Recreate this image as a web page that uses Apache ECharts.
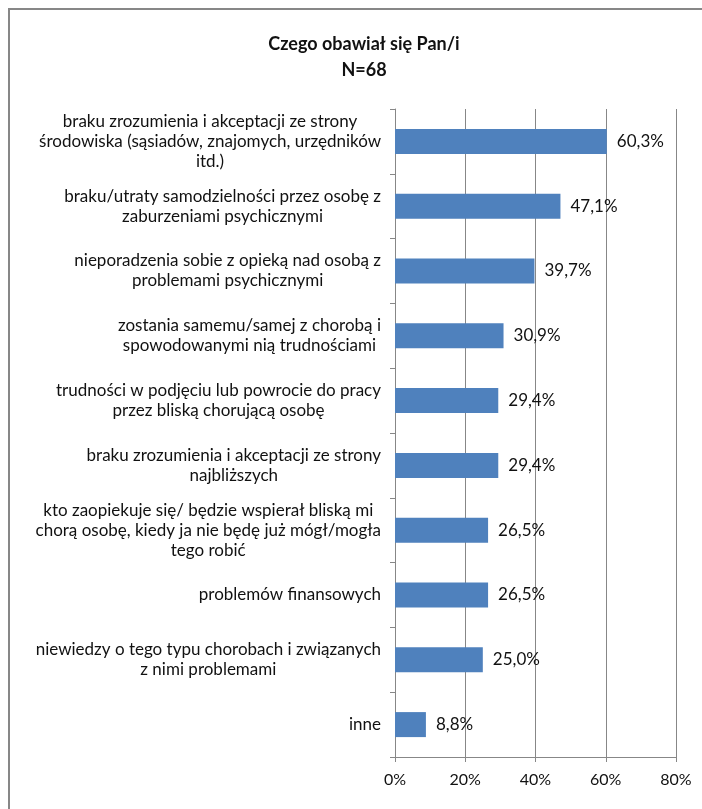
<!DOCTYPE html>
<html>
<head>
<meta charset="utf-8">
<script src="https://cdn.jsdelivr.net/npm/echarts@6/dist/echarts.min.js"></script>
<style>
  html, body { margin: 0; padding: 0; background: #fff; }
  #chart { width: 702px; height: 809px; }
</style>
</head>
<body>
<div id="chart"></div>
<script>
// Survey answers, in display order (top to bottom)
const categories = [
  'braku zrozumienia i akceptacji ze strony\nśrodowiska (sąsiadów, znajomych, urzędników\nitd.)',
  'braku/utraty samodzielności przez osobę z\nzaburzeniami psychicznymi',
  'nieporadzenia sobie z opieką nad osobą z\nproblemami psychicznymi',
  'zostania samemu/samej z chorobą i\nspowodowanymi nią trudnościami',
  'trudności w podjęciu lub powrocie do pracy\nprzez bliską chorującą osobę',
  'braku zrozumienia i akceptacji ze strony\nnajbliższych',
  'kto zaopiekuje się/ będzie wspierał bliską mi\nchorą osobę, kiedy ja nie będę już mógł/mogła\ntego robić',
  'problemów finansowych',
  'niewiedzy o tego typu chorobach i związanych\nz nimi problemami',
  'inne'
];

// Share of respondents (%)
const values = [60.3, 47.1, 39.7, 30.9, 29.4, 29.4, 26.5, 26.5, 25.0, 8.8];

// Value axis ticks
const axisMin = 0;
const axisMax = 80;
const axisStep = 20;

const titleText = 'Czego obawiał się Pan/i\nN=68';

const FONT = 'Lato, "Open Sans", sans-serif';
const GRAY = '#878787';
const TEXT = '#111';

const chart = echarts.init(document.getElementById('chart'), null, { renderer: 'canvas' });

chart.setOption({
  animation: false,
  backgroundColor: '#ffffff',
  textStyle: { fontFamily: FONT, color: TEXT },
  title: {
    text: titleText,
    left: 359,
    textAlign: 'center',
    top: 26,
    textStyle: {
      fontFamily: FONT,
      fontSize: 18,
      fontWeight: 'bold',
      lineHeight: 26,
      color: TEXT
    }
  },
  graphic: [{
    type: 'rect',
    silent: true,
    shape: { x: 9, y: 9, width: 760, height: 860 },
    style: { fill: 'none', stroke: GRAY, lineWidth: 2 }
  }],
  grid: { left: 395, right: 26, top: 109, bottom: 52, containLabel: false },
  xAxis: {
    type: 'value',
    min: axisMin,
    max: axisMax,
    interval: axisStep,
    axisLine: { show: true, lineStyle: { color: GRAY, width: 1 } },
    axisTick: { show: true, length: 5, lineStyle: { color: GRAY } },
    splitLine: { show: true, lineStyle: { color: GRAY, width: 1 } },
    axisLabel: {
      formatter: '{value}%',
      fontFamily: FONT,
      fontSize: 16,
      color: TEXT,
      margin: 15
    }
  },
  yAxis: {
    type: 'category',
    inverse: true,
    data: categories,
    axisLine: { show: true, lineStyle: { color: GRAY, width: 1 } },
    axisTick: { show: true, length: 5, alignWithLabel: false, lineStyle: { color: GRAY } },
    splitLine: { show: false },
    axisLabel: {
      interval: 0,
      margin: 14,
      fontFamily: FONT,
      fontSize: 17,
      lineHeight: 20,
      color: TEXT,
      formatter: function (value) {
        return value.split('\n').map(function (line) { return '{c|' + line + '}'; }).join('\n');
      },
      rich: {
        c: { align: 'center', fontFamily: FONT, fontSize: 17, lineHeight: 20, color: TEXT }
      }
    }
  },
  series: [{
    type: 'bar',
    data: values,
    barWidth: 25,
    itemStyle: { color: '#4f81bd' },
    label: {
      show: true,
      position: 'right',
      distance: 10,
      fontFamily: FONT,
      fontSize: 17,
      color: TEXT,
      formatter: function (p) {
        return p.value.toFixed(1).replace('.', ',') + '%';
      }
    }
  }]
});
</script>
</body>
</html>
